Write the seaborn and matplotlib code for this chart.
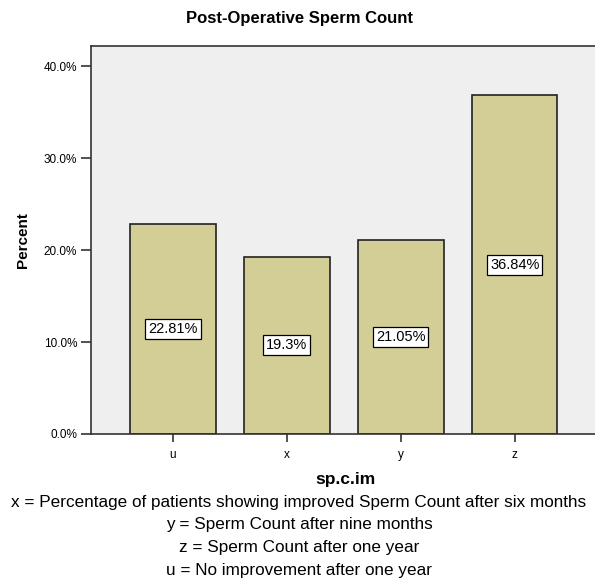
import pandas as pd
import seaborn as sns
import matplotlib.pyplot as plt
from matplotlib.ticker import FuncFormatter

# data
categories = ["u", "x", "y", "z"]
percents = [22.81, 19.3, 21.05, 36.84]
bar_labels = ["22.81%", "19.3%", "21.05%", "36.84%"]
footnotes = [
    "x = Percentage of patients showing improved Sperm Count after six months",
    "y = Sperm Count after nine months",
    "z = Sperm Count after one year",
    "u = No improvement after one year",
]

df = pd.DataFrame({"sp.c.im": categories, "Percent": percents})

sns.set_style("white", {"text.color": "black", "axes.labelcolor": "black",
                        "xtick.color": "black", "ytick.color": "black"})
plt.rcParams["font.family"] = ["Liberation Sans", "DejaVu Sans"]

W, H = 595, 581
fig = plt.figure(figsize=(W / 100, H / 100), dpi=100)
# plot area runs off the right edge of the picture
ax = fig.add_axes([91 / W, 1 - 434 / H, (599 - 91) / W, (434 - 46) / H])
ax.set_facecolor("#efefef")

sns.barplot(data=df, x="sp.c.im", y="Percent", color="#d3ce96",
            edgecolor="#222222", linewidth=1.2, width=0.75, saturation=1, ax=ax)

# value boxes in the middle of each bar
for i, (v, lab) in enumerate(zip(percents, bar_labels)):
    ax.text(i, v / 2, lab, ha="center", va="center", fontsize=10.5,
            bbox=dict(boxstyle="square,pad=0.2", fc="white", ec="black", lw=0.9))

ax.set_xlim(-0.72, 3.74)
ax.set_ylim(0, 42.2)
ax.set_yticks([0, 10, 20, 30, 40])
ax.yaxis.set_major_formatter(FuncFormatter(lambda v, p: f"{v:.1f}%"))

for side in ["top", "left", "bottom"]:
    ax.spines[side].set_visible(True)
    ax.spines[side].set_color("#333333")
    ax.spines[side].set_linewidth(1.2)
ax.spines["right"].set_visible(False)

ax.tick_params(axis="y", left=True, length=7, width=1.2, labelsize=8.5, pad=3, color="#333333")
ax.tick_params(axis="x", bottom=True, length=6, width=1.2, labelsize=8.5, pad=5, color="#333333")

ax.set_ylabel("Percent", fontsize=11, fontweight="bold", labelpad=10)
ax.set_xlabel("sp.c.im", fontsize=12.5, fontweight="bold", labelpad=8)

fig.text(300 / W, 1 - 19 / H, "Post-Operative Sperm Count", ha="center", va="center",
         fontsize=12, fontweight="bold")

for k, line in enumerate(footnotes):
    fig.text(299 / W, 1 - (502 + 22.7 * k) / H, line, ha="center", va="center", fontsize=12.3)

fig.savefig("out.png", dpi=100)
